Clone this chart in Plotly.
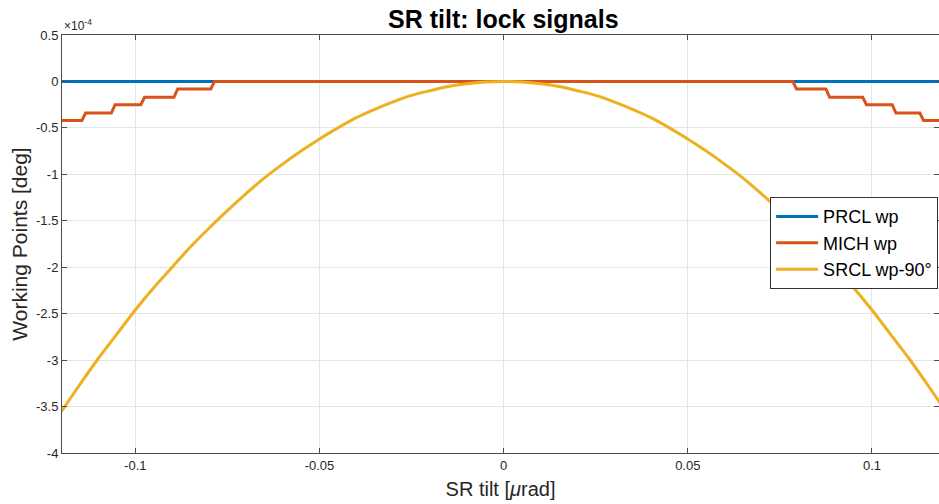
import plotly.graph_objects as go

# data (y values in units of 1e-4 deg)
prcl_x = [-0.12, 0.12]
prcl_y = [0.0, 0.0]

mich_x = [-0.12, -0.1145, -0.1135, -0.1065, -0.1055, -0.0985, -0.0975, -0.0895, -0.0885,
          -0.0795, -0.0785, 0.0785, 0.0795, 0.0875, 0.0885, 0.0975, 0.0985, 0.1055,
          0.1065, 0.1130, 0.1140, 0.12]
mich_y = [-0.42, -0.42, -0.34, -0.34, -0.25, -0.25, -0.17, -0.17, -0.08,
          -0.08, 0.0, 0.0, -0.08, -0.08, -0.17, -0.17, -0.25, -0.25,
          -0.34, -0.34, -0.42, -0.42]

srcl_x = [-0.12, -0.115, -0.11, -0.105, -0.10, -0.095, -0.09, -0.085, -0.08, -0.075,
          -0.07, -0.065, -0.06, -0.055, -0.05, -0.045, -0.04, -0.035, -0.03, -0.025,
          -0.02, -0.015, -0.01, -0.005, 0.0, 0.005, 0.01, 0.015, 0.02, 0.025, 0.03,
          0.035, 0.04, 0.045, 0.05, 0.055, 0.06, 0.065, 0.07, 0.075, 0.08, 0.085,
          0.09, 0.095, 0.10, 0.105, 0.11, 0.115, 0.12]
srcl_y = [-3.55, -3.26, -2.98, -2.72, -2.46, -2.22, -2.00, -1.78, -1.58, -1.39,
          -1.21, -1.04, -0.89, -0.75, -0.62, -0.50, -0.39, -0.30, -0.22, -0.15,
          -0.10, -0.055, -0.025, -0.006, 0.0, -0.006, -0.025, -0.055, -0.10, -0.15, -0.22,
          -0.30, -0.39, -0.50, -0.62, -0.75, -0.89, -1.04, -1.21, -1.39, -1.58, -1.78,
          -2.00, -2.22, -2.46, -2.72, -2.98, -3.26, -3.55]

x_ticks = [-0.1, -0.05, 0, 0.05, 0.1]
x_ticktext = ['-0.1', '-0.05', '0', '0.05', '0.1']
y_ticks = [0.5, 0, -0.5, -1, -1.5, -2, -2.5, -3, -3.5, -4]
y_ticktext = ['0.5', '0', '-0.5', '-1', '-1.5', '-2', '-2.5', '-3', '-3.5', '-4']

font = 'Liberation Sans, Arial, sans-serif'
axis_col = '#4d4d4d'

fig = go.Figure()
fig.add_trace(go.Scatter(x=prcl_x, y=prcl_y, mode='lines', name='PRCL wp',
                         line=dict(color='#0072BD', width=3)))
fig.add_trace(go.Scatter(x=mich_x, y=mich_y, mode='lines', name='MICH wp',
                         line=dict(color='#D95319', width=3)))
fig.add_trace(go.Scatter(x=srcl_x, y=srcl_y, mode='lines', name='SRCL wp-90°',
                         line=dict(color='#EDB120', width=3, shape='spline')))

fig.update_layout(
    width=939, height=504,
    margin=dict(l=62, r=0, t=35, b=51, autoexpand=False),
    paper_bgcolor='white', plot_bgcolor='white',
    font=dict(family=font, color='#262626'),
    title=dict(text='<b>SR tilt: lock signals</b>', x=0.536, xanchor='center',
               y=0.962, yanchor='middle', font=dict(size=25, color='black')),
    showlegend=True,
    legend=dict(x=0.999, xanchor='right', y=0.612, yanchor='top',
                bgcolor='white', bordercolor='#333333', borderwidth=1,
                font=dict(size=18, color='black'),
                tracegroupgap=0, itemwidth=42),
)

fig.update_xaxes(range=[-0.1199, 0.1182], tickvals=x_ticks, ticktext=x_ticktext,
                 showgrid=True, gridcolor='#e5e5e5', gridwidth=1, automargin=False,
                 zeroline=False, showline=True, linecolor=axis_col, linewidth=1,
                 mirror='ticks', ticks='inside', ticklen=5, tickcolor=axis_col,
                 tickfont=dict(size=13, color='#262626'),
                 title=dict(text='SR tilt [<i>μ</i>rad]', font=dict(size=20, color='#262626'),
                            standoff=10))
fig.update_yaxes(range=[-4, 0.5], tickvals=y_ticks, ticktext=y_ticktext,
                 showgrid=True, gridcolor='#e5e5e5', gridwidth=1, automargin=False,
                 zeroline=False, showline=True, linecolor=axis_col, linewidth=1,
                 mirror='ticks', ticks='inside', ticklen=5, tickcolor=axis_col,
                 tickfont=dict(size=13, color='#262626'),
                 title=dict(text='Working Points [deg]', font=dict(size=21, color='#262626'),
                            standoff=2))

fig.add_annotation(text='×10<sup>-4</sup>', xref='paper', yref='paper', x=0, y=1,
                   xanchor='left', yanchor='bottom', showarrow=False,
                   font=dict(size=12, color='#262626'))

# drop the default page margin so the figure fills the window
fig.write_html("out.html", config={'displayModeBar': False},
               post_script="document.body.style.margin='0';document.body.style.overflow='hidden';")
